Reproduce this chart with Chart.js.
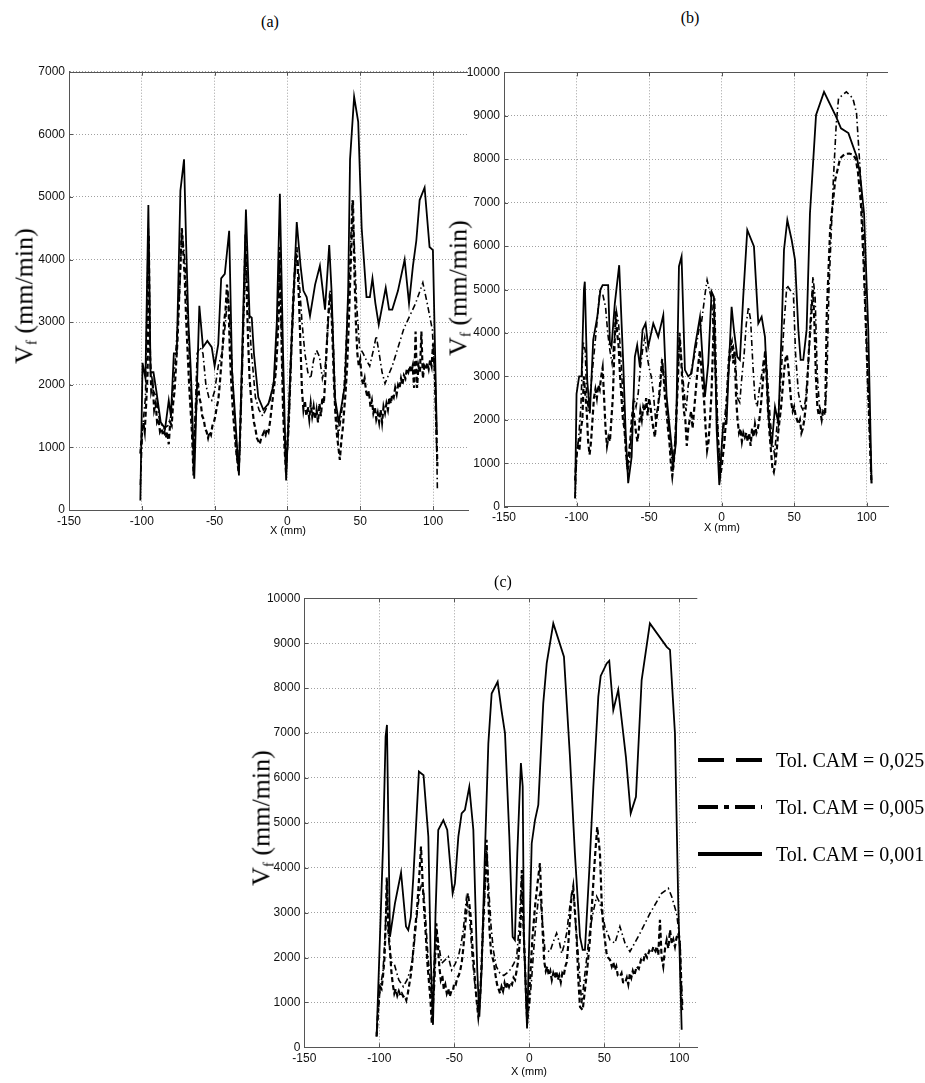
<!DOCTYPE html>
<html>
<head>
<meta charset="utf-8">
<script src="https://cdn.jsdelivr.net/npm/chart.js@4.4.0/dist/chart.umd.min.js"></script>
<style>
    body { margin: 0; background: #fff; }
    #page { position: relative; width: 925px; height: 1083px; overflow: hidden; background: #fff; }
    canvas { position: absolute; }
    .serif { position: absolute; font-family: "Liberation Serif", "Times New Roman", serif; color: #000; white-space: nowrap; }
    .panel-title { font-size: 16px; transform: translate(-50%, -50%); }
    .ylab { font-size: 26px; transform: translate(-50%, -50%) rotate(-90deg); }
    .ylab sub { font-size: 15px; vertical-align: -4px; }
    .xlab { position: absolute; font-family: "Liberation Sans", Arial, sans-serif; font-size: 11px; transform: translate(-50%, -50%); white-space: nowrap; }
    .leg-text { font-size: 20px; transform: translateY(-50%); }
    svg.leg-line { position: absolute; }
</style>
</head>
<body>
<div id="page">
    <canvas id="chart_a"></canvas>
    <canvas id="chart_b"></canvas>
    <canvas id="chart_c"></canvas>
</div>
<script>
// tick values
const xTicks = [-150, -100, -50, 0, 50, 100];
const yTicksA = [0, 1000, 2000, 3000, 4000, 5000, 6000, 7000];
const yTicksBC = [0, 1000, 2000, 3000, 4000, 5000, 6000, 7000, 8000, 9000, 10000];

const tolLabels = ['Tol. CAM = 0,025', 'Tol. CAM = 0,005', 'Tol. CAM = 0,001'];

// (a) feed rate vs X, [x mm, mm/min]
const a025 = [[-101,900],[-100,1200],[-99,1400],[-98,1250],[-97,1700],[-96,2200],[-95.2,4400],[-94.5,2600],[-93.5,1900],[-92.5,2000],[-91.5,1600],[-90.5,1700],[-89.5,1400],[-88.5,1450],[-87.5,1250],[-86.5,1300],[-85.5,1200],[-84.5,1250],[-83.5,1150],[-82.5,1250],[-81.5,1050],[-80.5,1400],[-79.5,1350],[-78.5,1700],[-77.5,1900],[-76.5,2300],[-75.5,2700],[-74.5,3300],[-73.5,3900],[-72.5,4500],[-71.5,4100],[-70.5,3700],[-69.5,3000],[-68.5,2500],[-67.5,2000],[-66.5,1600],[-65.5,1200],[-64.5,550],[-63.5,1300],[-62.5,1700],[-61.5,2050],[-60.5,1800],[-59.5,1700],[-58.5,1500],[-57.5,1450],[-56.5,1300],[-55.5,1250],[-54.5,1150],[-53.5,1250],[-52.5,1200],[-51.5,1350],[-50.5,1400],[-49.5,1500],[-48.5,1650],[-47.5,1750],[-46.5,2000],[-45.5,2300],[-44.5,2600],[-43.5,3000],[-42.5,3200],[-41.5,3600],[-40.5,3300],[-39.5,2500],[-38.5,2000],[-37.5,1600],[-36.5,1300],[-35.5,1000],[-34.5,800],[-33.5,600],[-32.5,1200],[-31.5,2000],[-30.5,2800],[-29.5,3600],[-28.8,4400],[-28,3500],[-27,2700],[-26,2100],[-25,1800],[-24,1600],[-23,1400],[-22,1300],[-21,1150],[-20,1100],[-19,1050],[-18,1150],[-17,1200],[-16,1250],[-15,1200],[-14,1300],[-13,1250],[-12,1400],[-11,1600],[-10,1800],[-9,2000],[-8,2200],[-7,2600],[-6,3100],[-5.3,4200],[-4,2600],[-3,1600],[-2,1000],[-1,600],[0,1100],[1,1500],[2,2200],[3,2800],[4,3400],[5,3800],[6,4100],[7,3900],[8,3300],[9,2600],[10,1900],[11,1600],[12,1750],[13,1500],[14,1650],[15,1450],[16,1700],[17,1500],[18,1650],[19,1450],[20,1600],[21,1400],[22,1700],[23,1500],[24,1800],[25,1700],[26,2100],[27,2600],[28,3100],[29,3400],[30,3300],[31,2700],[32,2000],[33,1500],[34,1200],[35,1000],[36,800],[37,1100],[38,1300],[39,1600],[40,1900],[41,2300],[42,2900],[43,3600],[44,4300],[45,4950],[46,3800],[47,3000],[48,2500],[49,2300],[50,2400],[51,2100],[52,2000],[53,2100],[54,1900],[55,1800],[56,1900],[57,1650],[58,1750],[59,1550],[60,1650],[61,1450],[62,1550],[63,1400],[64,1600],[65,1400],[66,1650],[67,1550],[68,1700],[69,1600],[70,1800],[71,1700],[72,1850],[73,1800],[74,1950],[75,1850],[76,2000],[77,1950],[78,2100],[79,2000],[80,2150],[81,2100],[82,2250],[83,2200],[84,2300],[85,2200],[86,2300],[87,1950],[88,2850],[89,1950],[90,2300],[91,2200],[92,2850],[93,2100],[94,2300],[95,2250],[96,2350],[97,2250],[98,2400],[99,2300],[100,2650],[101,2300],[102,1500],[103,700]];
const a005 = [[-101,400],[-99.5,1300],[-97.5,1800],[-95.5,4500],[-94,2300],[-92,1900],[-90,1800],[-88,1450],[-85,1300],[-82,1350],[-80,1500],[-77,2400],[-74,3500],[-72.5,4500],[-70.5,4000],[-68,2800],[-66,1800],[-64.5,700],[-62,2500],[-60,2600],[-58,2500],[-56,2000],[-54,1800],[-52,1750],[-50,1900],[-47.5,2300],[-45,2500],[-42.5,3000],[-41,3500],[-39.5,3000],[-37,1800],[-35,900],[-33.3,600],[-31,2200],[-29,4200],[-27,3400],[-25,2600],[-22,1800],[-19.5,1600],[-17,1500],[-15,1600],[-12,1750],[-9,2100],[-7,3000],[-5.5,4000],[-3,2000],[-1,600],[1,1300],[3,2600],[5,3700],[6.5,4200],[8,3700],[10,3000],[12,2500],[14,2200],[16,2100],[18,2400],[20,2550],[22,2450],[24,2100],[26,2300],[28,3000],[29.5,3500],[31,3000],[33,1700],[35,1200],[37,1500],[39,2000],[41,3000],[43,4000],[44.5,4950],[46,4200],[47.5,3300],[49.5,2600],[52,2500],[54,2400],[56.5,2300],[59,2550],[61,2780],[63,2500],[65,2200],[67,2020],[72,2300],[76,2600],[80,2900],[84,3100],[88,3300],[93,3630],[96,3300],[99.5,2880],[101.5,2000],[102.5,1000],[103,300]];
const a001 = [[-101,150],[-99.5,2350],[-97.5,2100],[-95.5,4870],[-94,2200],[-92,2200],[-90,1900],[-87,1400],[-84,1300],[-81.5,1750],[-80,1500],[-78,2500],[-76,2500],[-73.5,5100],[-72.5,5300],[-71,5600],[-69.5,4200],[-68,3000],[-66.5,2300],[-65.5,1700],[-64,500],[-60.5,3260],[-58,2600],[-55,2700],[-52,2600],[-50,2300],[-47.5,2650],[-45.5,3700],[-43,3770],[-40,4460],[-38,2200],[-36.5,1700],[-33.3,550],[-28.5,4800],[-26,3100],[-24.5,3070],[-23,2500],[-20,1800],[-16.5,1600],[-13,1700],[-9.5,2000],[-7.3,3000],[-5.2,5050],[-3,2500],[-0.9,470],[3,2800],[6.4,4600],[9,3900],[11,3500],[13.2,3400],[15.5,3100],[19,3600],[22.3,3900],[25.8,3200],[28.7,4230],[30.3,3500],[32.6,1800],[35.3,1400],[39.5,2000],[41.7,3500],[43,5600],[45.8,6600],[48.6,6200],[51,4500],[54.3,3400],[56.6,3400],[58.4,3700],[60.4,3300],[62.7,2960],[67.5,3550],[69.8,3200],[72,3200],[75.9,3500],[80.5,4000],[83.5,3300],[86.2,3900],[88.5,4300],[90.8,4950],[94.2,5150],[97.6,4200],[99.9,4150],[102.6,1200]];

// (b)
const b025 = [[-101,600],[-100,1200],[-99,1400],[-98,1300],[-97,1800],[-96,2000],[-95,3000],[-94,2600],[-93,2200],[-92,1500],[-91,1200],[-90,1500],[-89,2000],[-88,2500],[-87,2700],[-86,2500],[-85,2800],[-84,2700],[-83,3000],[-82,3200],[-81,2500],[-80,1800],[-79,1400],[-78,1600],[-77,1500],[-76,2000],[-75,2500],[-74,3500],[-73,4500],[-72,4000],[-71,3700],[-70,3000],[-69,2500],[-68,2000],[-67,1800],[-66,1300],[-65,900],[-64,1200],[-63,1500],[-62,2000],[-61,2300],[-60,2000],[-59,1700],[-58,1500],[-57,1800],[-56,2200],[-55,2000],[-54,2300],[-53,2200],[-52,2500],[-51,2100],[-50,2500],[-49,2300],[-48,2000],[-47,1800],[-46,1600],[-45,2000],[-44,2200],[-43,2600],[-42,3000],[-41,3400],[-40,3000],[-39,2500],[-38,2200],[-37,1800],[-36,1500],[-35,1000],[-34,700],[-33,1000],[-32,1500],[-31,2200],[-30,3000],[-29,4000],[-28,3500],[-27,2800],[-26,2200],[-25,2000],[-24,1400],[-23,1800],[-22,2000],[-21,2200],[-20,1800],[-19,2200],[-18,2600],[-17,3000],[-16,3300],[-15,3600],[-14,3200],[-13,2800],[-12,2400],[-11,1800],[-10,1300],[-9,1500],[-8,2000],[-7,2600],[-6,3600],[-5,4800],[-4,3200],[-3,2000],[-2,1300],[-1,700],[0,900],[1,1200],[2,1500],[3,2000],[4,2800],[5,3400],[6,3700],[7,3800],[8,3300],[9,3600],[10,2500],[11,2000],[12,1700],[13,1800],[14,1500],[15,1700],[16,1600],[17,1700],[18,1500],[19,1700],[20,1400],[21,1800],[22,1600],[23,1900],[24,1700],[25,1800],[26,2000],[27,2300],[28,2700],[29,3100],[30,3600],[31,3000],[32,2200],[33,1700],[34,1300],[35,900],[36,800],[37,1000],[38,1300],[39,1700],[40,2000],[41,2300],[42,2700],[43,3100],[44,3400],[45,3500],[46,3200],[47,2800],[48,2400],[49,2200],[50,2300],[51,2100],[52,2000],[53,1900],[54,2000],[55,1700],[56,1800],[57,2000],[58,2300],[59,2800],[60,3500],[61,4000],[62,4500],[63,5000],[64,4200],[65,3000],[66,2300],[67,2100],[68,2200],[69,2000],[70,2200],[71.4,2150],[72.5,4450],[74.8,6370],[78.3,7520],[81.7,8020],[85,8120],[88,8130],[90.8,8100],[92.5,8000],[94,7700],[96,7000],[98,5500],[100,3600],[102,1700],[103.3,540]];
const b005 = [[-101,200],[-100,1100],[-98.5,1600],[-97,2300],[-95.5,3800],[-94,3600],[-93,2500],[-91.5,2200],[-90,2800],[-88,3500],[-86,4200],[-84,4950],[-82,4900],[-80,4600],[-78.5,4000],[-77,3600],[-75.5,3300],[-74,3800],[-72.5,4500],[-71,4200],[-69.5,3500],[-68,2500],[-66.5,1600],[-65,800],[-63.5,1000],[-62,1800],[-60.5,2500],[-59,2300],[-57.5,2600],[-56,3200],[-54.5,3600],[-53,3900],[-51.5,3500],[-50,3200],[-48.5,3000],[-47,2600],[-45.5,2000],[-44,2300],[-42.5,2600],[-41,3300],[-39.5,3000],[-38,2500],[-36.5,1800],[-35,1300],[-33.5,800],[-32,1600],[-30.5,2800],[-29,3900],[-27.5,3300],[-26,2700],[-24.5,2200],[-23,2800],[-21.5,3000],[-20,3300],[-18.5,3500],[-17,3800],[-15.5,4100],[-14,4200],[-12.5,4600],[-11,5000],[-10,5220],[-8.5,5000],[-7,4800],[-5.5,4000],[-4,2800],[-2.5,1600],[-1,900],[0.5,1500],[2,2000],[3.5,2500],[5,3200],[6.5,3600],[8,3700],[9.5,3400],[11,2500],[12.5,2400],[14,3000],[15.5,3500],[17,4200],[18.5,4600],[20,4300],[21.5,3300],[23,2500],[24.5,2300],[26,2700],[27.5,3000],[29,3400],[30.5,3500],[32,2800],[33.5,2000],[35,1500],[36.5,1200],[38,1800],[39.5,2300],[41,3000],[43,4200],[45,5100],[47,5000],[49.5,4900],[51,3500],[53,2600],[55,2300],[56.5,2200],[58,2500],[60,3400],[61.5,4500],[63,5300],[64.5,4800],[66,3000],[67.5,2300],[69,2150],[71,2100],[72.5,2800],[74,5000],[77,7500],[79,8800],[80.6,9400],[86,9550],[90.5,9400],[93,9060],[95.5,7750],[98,6000],[100,3800],[102,1800],[103.3,540]];
const b001 = [[-101,190],[-100,2600],[-98.2,3000],[-96.5,3000],[-94.9,5000],[-94.3,5180],[-92.6,2900],[-90.8,2150],[-88.5,3840],[-85.7,4370],[-83.5,5000],[-82,5100],[-78.2,5100],[-77,3760],[-75.9,3680],[-73.6,4680],[-70.6,5560],[-67.8,3300],[-66.2,1770],[-64.4,540],[-62,1150],[-59.8,3450],[-58.2,3720],[-56.3,3220],[-54.5,4070],[-52.4,4220],[-50.6,3680],[-47.1,4220],[-43.7,3910],[-40.2,4410],[-37.9,2530],[-35.6,1770],[-33.3,1000],[-31.5,1460],[-29.4,5530],[-27.6,5760],[-25.3,3150],[-23,3000],[-20.7,3070],[-18.4,3680],[-14.9,4370],[-11.5,2530],[-9.2,3300],[-6.9,4950],[-5.3,4830],[-3.4,1770],[-1.6,500],[1.1,1920],[3.4,1920],[4.6,2920],[6.9,4600],[8.5,4070],[10.8,3450],[12.6,3380],[14.9,4830],[17.7,6370],[22.3,5990],[25.3,4220],[27.6,4370],[29.9,3910],[32.2,2150],[34.5,1380],[36.8,2300],[39.1,1920],[41.4,4070],[43,5910],[45.3,6600],[48.3,6140],[50.6,5680],[52.9,4070],[54.5,3380],[56.3,3380],[58.6,4070],[60.9,6750],[65.1,9020],[70.6,9550],[78.9,8980],[82.3,8710],[87.4,8600],[93.1,8060],[95.4,7670],[98.2,6750],[101.1,4070],[103.4,540]];

// (c)
const c025 = [[-101.8,240],[-100.5,1000],[-99.5,1350],[-98.5,1300],[-97.5,1600],[-96.5,2000],[-95.5,3000],[-95,3780],[-94,2600],[-93,2240],[-92,1700],[-91,1400],[-90,1200],[-89,1300],[-88,1150],[-87,1250],[-86,1150],[-85,1200],[-84,1130],[-83,1150],[-82,1050],[-81,1200],[-80,1400],[-79,1600],[-78,1900],[-77,2300],[-76,2700],[-75,3000],[-74,3500],[-73,4000],[-72.2,4470],[-71,3600],[-70,3000],[-69,2500],[-68,1900],[-67,1500],[-66,1100],[-65,530],[-64,1400],[-63,2000],[-62,2760],[-61,2300],[-60,1800],[-59,1500],[-58,1600],[-57,1300],[-56,1400],[-55,1200],[-54,1300],[-53,1130],[-52,1250],[-51,1250],[-50,1430],[-49,1400],[-48,1550],[-47,1600],[-46,1720],[-45,1900],[-44,2200],[-43,2610],[-42,3000],[-41,3430],[-40,3200],[-39,2900],[-38,2300],[-37,1870],[-36,1400],[-35,1000],[-34,680],[-33,1000],[-32,1700],[-31,2600],[-30,3300],[-29,4000],[-28.5,4620],[-27.5,3500],[-26.5,2610],[-25.5,2100],[-24.5,2000],[-23.5,1870],[-22.5,1600],[-21.5,1400],[-20.5,1300],[-19.5,1200],[-18.5,1350],[-17.5,1250],[-16.5,1430],[-15.5,1300],[-14.5,1450],[-13.5,1350],[-12.5,1450],[-11.5,1400],[-10.5,1550],[-9.5,1500],[-8.5,1700],[-7.5,1900],[-6.5,2300],[-5.5,3000],[-4.9,3950],[-4,2800],[-2.9,1870],[-2,1000],[-1.3,530],[0,1200],[1,1800],[2,2400],[3,2800],[4,3200],[5,3500],[6,3800],[7.1,4100],[8,3300],[9,2500],[10,1900],[11,1700],[12,1800],[13,1600],[14,1700],[15,1500],[16,1650],[17,1550],[18,1700],[19,1500],[20,1600],[21,1450],[22,1650],[23,1600],[24,1800],[25,1900],[26,2300],[27,2800],[28,3300],[29.3,3580],[30.5,3000],[31.6,2390],[32.7,1500],[33.8,900],[35.6,830],[36.5,1100],[37.1,1280],[38.5,1700],[40.4,2390],[42,3300],[43.8,4250],[45.3,4910],[47.1,4320],[48.2,3280],[49.3,2700],[50.4,2390],[51.5,2100],[52.5,2000],[53.8,1950],[55,1800],[56,1900],[57.1,1720],[58,1800],[59,1600],[60.4,1570],[61.5,1650],[62.5,1450],[63.8,1430],[65,1550],[66,1400],[67.1,1650],[68,1550],[69,1700],[70,1600],[71.6,1800],[73,1750],[74.5,1950],[76,1900],[77.1,2090],[78.5,2000],[80,2150],[81.5,2100],[82.7,2240],[84,2150],[85,2250],[86,2050],[87.1,2840],[88.2,2000],[89.3,1800],[90.5,2200],[91.6,2390],[92.7,2200],[93.8,2610],[95,2300],[96,2400],[97.1,2240],[98.2,2450],[99.3,2540],[100.4,2300],[101.6,900],[102.2,800]];
const c005 = [[-101.8,300],[-99.5,1300],[-97.5,1700],[-96,2600],[-95,3600],[-93.5,2300],[-92,1900],[-90,1850],[-87,1500],[-84,1350],[-81.5,1500],[-79,1750],[-77,2200],[-75,2900],[-73,3500],[-72,3600],[-70.5,3500],[-69,2800],[-67.5,2000],[-66,1500],[-64.5,700],[-63,1500],[-61.8,2610],[-60,2200],[-58.4,1870],[-56,1950],[-54,2020],[-51.8,1720],[-49.5,1850],[-47.3,2020],[-45.5,2300],[-44,2610],[-42,3300],[-40,3000],[-38,2000],[-36,1300],[-34.5,900],[-33,1000],[-31.5,2000],[-30,3200],[-28.5,4500],[-27,3500],[-25.5,2700],[-24,2170],[-22,1800],[-19.6,1650],[-17,1600],[-15,1650],[-12.9,1720],[-10.5,1850],[-8.4,2020],[-6.5,2800],[-5.1,3950],[-3.5,2300],[-1.5,700],[0,900],[1.5,1500],[3,2200],[4.5,2800],[6,3300],[7.1,3430],[8.5,2900],[10.4,2170],[13.8,2130],[16,2350],[18.2,2540],[20,2350],[21.6,2090],[23,2250],[24.9,2540],[26.5,3000],[28.2,3430],[29.3,3500],[30.5,2900],[32.7,2020],[34.9,980],[37.1,1650],[40.4,2610],[42.5,3000],[44.9,3360],[47.1,3210],[50.4,2690],[53.8,2390],[57.1,2320],[60.4,2690],[63.8,2320],[67.1,2130],[73.8,2540],[80.4,2980],[88.2,3430],[92.7,3540],[94.9,3360],[98.2,2980],[100.4,2390],[102.2,900]];
const c001 = [[-101.8,240],[-97.5,4500],[-95.8,6920],[-94.9,7180],[-92.9,2460],[-89.6,3200],[-85.5,3890],[-82.2,2690],[-80.7,2610],[-79,2900],[-77.3,3800],[-73.6,6140],[-70.5,6060],[-67.3,4690],[-65.8,2090],[-64.2,500],[-62.5,3000],[-60.7,4840],[-57.3,5060],[-54.7,4840],[-51.1,3430],[-49.6,3650],[-47.3,4690],[-45.1,5210],[-42.9,5290],[-40,5800],[-37.3,4840],[-34.7,1720],[-33.3,680],[-31.8,1720],[-29.6,4320],[-27.3,6770],[-25.1,7880],[-21.1,8140],[-18.5,7500],[-16.2,6990],[-13.3,4690],[-11.1,2460],[-9.6,2390],[-8,4320],[-6.7,5430],[-5.6,6330],[-4.4,5810],[-3.6,2460],[-1.5,420],[1.6,4540],[3.8,5060],[6,5400],[9.3,7660],[11.6,8550],[16,9440],[23.1,8700],[27.1,6470],[30.4,4320],[33.8,2460],[35.6,2170],[37.1,2170],[40,3950],[42.7,5810],[46,7810],[47.6,8270],[51.6,8550],[53.3,8610],[56,7510],[59.3,7960],[61.6,7290],[64.4,6470],[67.6,5210],[71.1,5580],[74.9,8180],[80.4,9440],[91.6,8920],[93.8,8850],[97.1,6990],[99.3,3210],[101.6,390]];

const lineWidths = [2.2, 1.6, 1.8];
const lineDashes = [[5, 3], [6, 3, 1.5, 3], []];
const tickFont = { family: '"Liberation Sans", Arial, sans-serif', size: 12 };

// matlab style frame: top border and inward tick marks
const matlabFrame = {
    id: 'matlabFrame',
    afterDraw: function(chart) {
        const ctx = chart.ctx;
        const a = chart.chartArea;
        const sx = chart.scales.x;
        const sy = chart.scales.y;
        ctx.save();
        ctx.strokeStyle = '#555';
        ctx.lineWidth = 1;
        ctx.beginPath();
        ctx.moveTo(a.left, Math.round(a.top) + 0.5);
        ctx.lineTo(a.right, Math.round(a.top) + 0.5);
        sx.ticks.forEach(function(t) {
            const px = Math.round(sx.getPixelForValue(t.value)) + 0.5;
            ctx.moveTo(px, a.bottom); ctx.lineTo(px, a.bottom - 4);
            ctx.moveTo(px, a.top); ctx.lineTo(px, a.top + 4);
        });
        sy.ticks.forEach(function(t) {
            const py = Math.round(sy.getPixelForValue(t.value)) + 0.5;
            ctx.moveTo(a.left, py); ctx.lineTo(a.left + 4, py);
        });
        ctx.stroke();
        ctx.restore();
    }
};

function buildPanel(id, rect, area, series, xMax, yTicks, yAxisW) {
    const canvas = document.getElementById(id);
    canvas.width = rect.w;
    canvas.height = rect.h;
    canvas.style.left = rect.x + 'px';
    canvas.style.top = rect.y + 'px';
    const xAxisH = 20;

    const gridOpts = { color: '#a0a0a0', lineWidth: 1, drawTicks: false };
    const borderOpts = { display: true, color: '#555', width: 1, dash: [1, 2] };

    return new Chart(canvas.getContext('2d'), {
        type: 'line',
        data: {
            datasets: series.map(function(pts, i) {
                return {
                    label: tolLabels[i],
                    data: pts.map(function(p) { return { x: p[0], y: p[1] }; }),
                    borderColor: '#000',
                    borderWidth: lineWidths[i],
                    borderDash: lineDashes[i],
                    pointRadius: 0,
                    fill: false,
                    tension: 0
                };
            })
        },
        options: {
            responsive: false,
            animation: false,
            devicePixelRatio: 1,
            layout: {
                padding: {
                    left: area.l - rect.x - yAxisW,
                    top: area.t - rect.y,
                    right: rect.x + rect.w - area.r,
                    bottom: rect.y + rect.h - area.b - xAxisH
                }
            },
            plugins: { legend: { display: false }, tooltip: { enabled: false } },
            scales: {
                x: {
                    type: 'linear',
                    min: -150,
                    max: xMax,
                    afterBuildTicks: function(axis) { axis.ticks = xTicks.map(function(v) { return { value: v }; }); },
                    afterFit: function(axis) { axis.height = xAxisH; },
                    grid: gridOpts,
                    border: borderOpts,
                    ticks: { font: tickFont, color: '#111', padding: 4, maxRotation: 0, callback: function(v) { return String(v); } }
                },
                y: {
                    type: 'linear',
                    min: 0,
                    max: yTicks[yTicks.length - 1],
                    afterBuildTicks: function(axis) { axis.ticks = yTicks.map(function(v) { return { value: v }; }); },
                    afterFit: function(axis) { axis.width = yAxisW; },
                    grid: gridOpts,
                    border: borderOpts,
                    ticks: { font: tickFont, color: '#111', padding: 4, callback: function(v) { return String(v); } }
                }
            }
        },
        plugins: [matlabFrame]
    });
}

function addText(cls, html, x, y) {
    const d = document.createElement('div');
    d.className = cls;
    d.innerHTML = html;
    d.style.left = x + 'px';
    d.style.top = y + 'px';
    document.getElementById('page').appendChild(d);
    return d;
}

function addLegend(x, ys) {
    const page = document.getElementById('page');
    const svgDash = ['26 12', '20 6 5 6', ''];
    tolLabels.forEach(function(lbl, i) {
        const svg = document.createElementNS('http://www.w3.org/2000/svg', 'svg');
        svg.setAttribute('class', 'leg-line');
        svg.setAttribute('width', '66');
        svg.setAttribute('height', '8');
        svg.style.left = x + 'px';
        svg.style.top = (ys[i] - 4) + 'px';
        const ln = document.createElementNS('http://www.w3.org/2000/svg', 'line');
        ln.setAttribute('x1', '1'); ln.setAttribute('x2', '65');
        ln.setAttribute('y1', '4'); ln.setAttribute('y2', '4');
        ln.setAttribute('stroke', '#000');
        ln.setAttribute('stroke-width', '4');
        if (svgDash[i]) ln.setAttribute('stroke-dasharray', svgDash[i]);
        svg.appendChild(ln);
        page.appendChild(svg);
        addText('serif leg-text', lbl, x + 79, ys[i]);
    });
}

const vfLabel = 'V<sub>f</sub> (mm/min)';

document.addEventListener('DOMContentLoaded', function() {
    try {
        buildPanel('chart_a', { x: 0, y: 40, w: 475, h: 510 }, { l: 69, t: 71.7, r: 468, b: 510 },
            [a025, a005, a001], 124, yTicksA, 44);
        buildPanel('chart_b', { x: 440, y: 40, w: 480, h: 510 }, { l: 504, t: 72.3, r: 888, b: 506.7 },
            [b025, b005, b001], 114.7, yTicksBC, 50);
        buildPanel('chart_c', { x: 230, y: 570, w: 480, h: 510 }, { l: 304.3, t: 598.3, r: 697.3, b: 1047.3 },
            [c025, c005, c001], 112, yTicksBC, 50);
    } catch (error) {
        console.error('Error creating charts:', error);
    }

    addText('serif panel-title', '(a)', 270, 22);
    addText('serif panel-title', '(b)', 690, 18);
    addText('serif panel-title', '(c)', 503, 582);

    addText('serif ylab', vfLabel, 25, 296);
    addText('serif ylab', vfLabel, 459, 288);
    addText('serif ylab', vfLabel, 262, 818);

    addText('xlab', 'X (mm)', 288, 530);
    addText('xlab', 'X (mm)', 722, 527);
    addText('xlab', 'X (mm)', 529, 1071);

    addLegend(697, [760, 807, 854]);
});
</script>
</body>
</html>
